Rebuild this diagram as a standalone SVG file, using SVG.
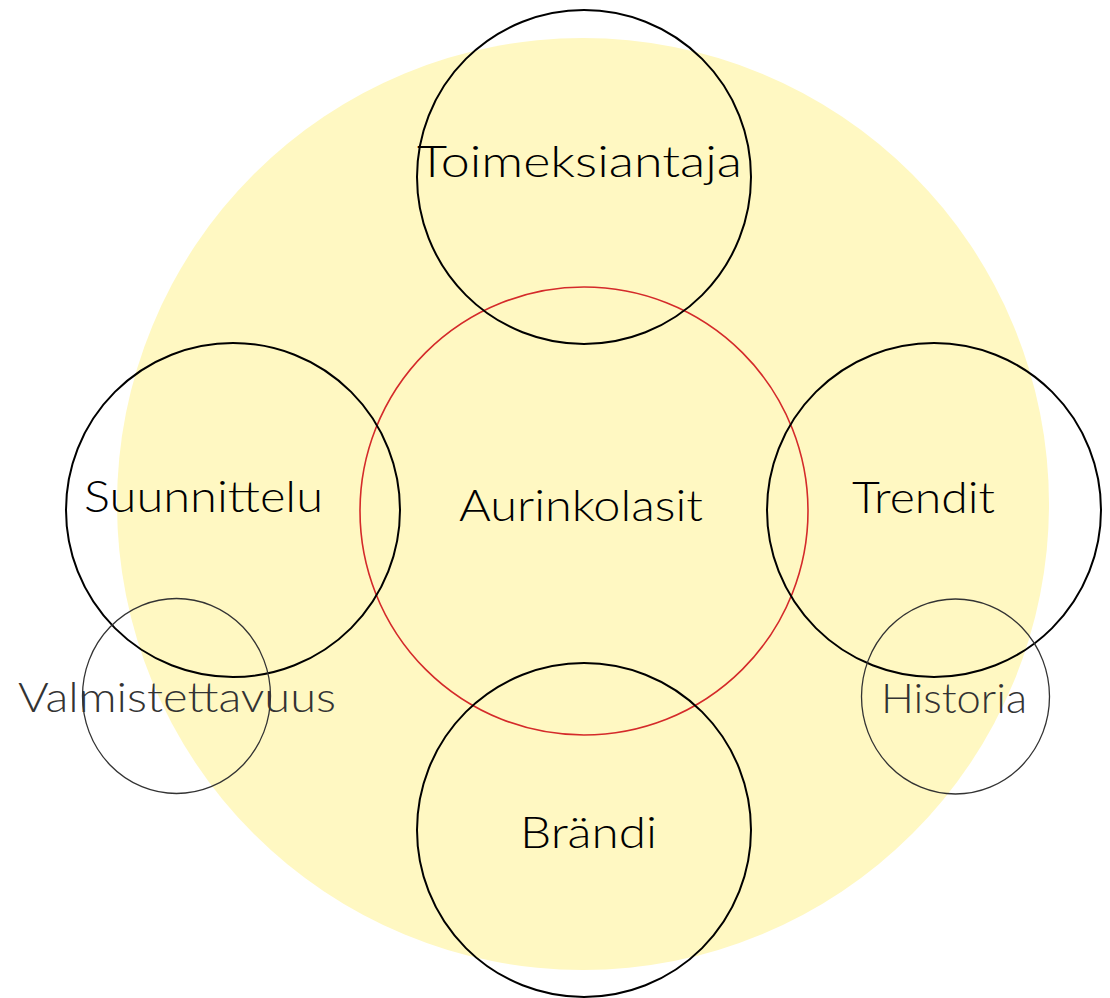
<svg xmlns="http://www.w3.org/2000/svg" width="1110" height="998" viewBox="0 0 1110 998">
<style>
.big{fill:none;stroke:#000;stroke-width:2}
.small{fill:none;stroke:#333;stroke-width:1.3}
.t{font-family:Lato,"DejaVu Sans",sans-serif;font-size:43px;font-weight:300;fill:#000}
.ts{font-family:Lato,"DejaVu Sans",sans-serif;font-size:41px;font-weight:300;fill:#333}
</style>
<rect width="1110" height="998" fill="#fff"/>
<g id="background"><ellipse cx="583" cy="504" rx="466" ry="466" fill="#FFF8C2"/></g>
<g id="connectors"></g>
<g id="aurinkolasit"><circle cx="584" cy="511" r="224" fill="none" stroke="#D42A2A" stroke-width="1.6"/><text class="t" x="459" y="521" textLength="244" lengthAdjust="spacingAndGlyphs">Aurinkolasit</text></g>
<g id="toimeksiantaja"><circle class="big" cx="584" cy="177" r="167"/><text class="t" x="417" y="177" textLength="325" lengthAdjust="spacingAndGlyphs">Toimeksiantaja</text></g>
<g id="suunnittelu"><circle class="big" cx="233" cy="510" r="167"/><text class="t" x="84" y="512" textLength="239" lengthAdjust="spacingAndGlyphs">Suunnittelu</text></g>
<g id="trendit"><circle class="big" cx="934" cy="510" r="167"/><text class="t" x="852" y="513" textLength="143" lengthAdjust="spacingAndGlyphs">Trendit</text></g>
<g id="brandi"><circle class="big" cx="584" cy="830" r="167"/><text class="t" x="520" y="848" textLength="137" lengthAdjust="spacingAndGlyphs">Brändi</text></g>
<g id="valmistettavuus"><ellipse class="small" cx="176.5" cy="696" rx="94" ry="97.5"/><text class="ts" x="18" y="712" textLength="318" lengthAdjust="spacingAndGlyphs">Valmistettavuus</text></g>
<g id="historia"><ellipse class="small" cx="955.5" cy="696.5" rx="94" ry="97.5"/><text class="ts" x="881" y="713" textLength="146" lengthAdjust="spacingAndGlyphs">Historia</text></g>
</svg>
